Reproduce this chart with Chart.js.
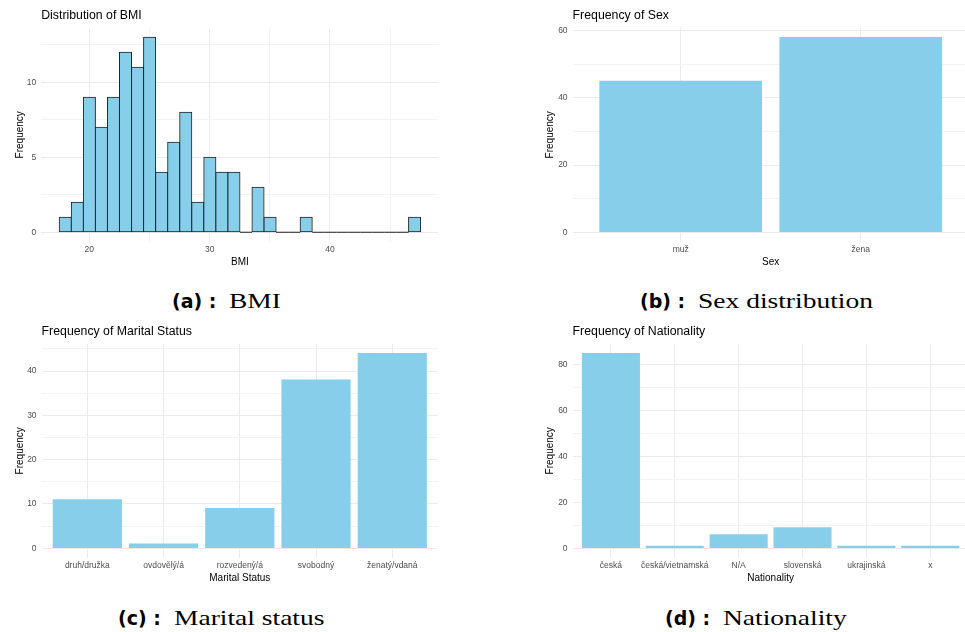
<!DOCTYPE html>
<html>
<head>
<meta charset="utf-8">
<script src="https://cdn.jsdelivr.net/npm/chart.js@4.4.1/dist/chart.umd.min.js"></script>
<style>
  html, body { margin: 0; padding: 0; background: #fff; width: 965px; height: 632px; overflow: hidden; position: relative; }
  .panel { position: absolute; }
  .panel canvas { display: block; }
  .cap { position: absolute; white-space: nowrap; line-height: 24px; color: #000; }
  .cap .lab { font-family: "DejaVu Sans", sans-serif; font-weight: bold; font-size: 19px; margin-right: 13px; }
  .cap .txt { display: inline-block; font-family: "Liberation Serif", serif; font-size: 22px; transform: scaleX(1.25); transform-origin: 0 50%; }
</style>
</head>
<body>
<div class="panel" style="left:0px;top:0px"><canvas id="bmiChart" width="450" height="272"></canvas></div>
<div class="panel" style="left:530px;top:0px"><canvas id="sexChart" width="440" height="272"></canvas></div>
<div class="panel" style="left:0px;top:316px"><canvas id="maritalChart" width="450" height="272"></canvas></div>
<div class="panel" style="left:530px;top:316px"><canvas id="nationalityChart" width="440" height="272"></canvas></div>

<div class="cap" style="left:172px;top:289px"><span class="lab">(a) :</span><span class="txt">BMI</span></div>
<div class="cap" style="left:640px;top:289px"><span class="lab">(b) :</span><span class="txt">Sex distribution</span></div>
<div class="cap" style="left:118px;top:606px"><span class="lab">(c) :</span><span class="txt">Marital status</span></div>
<div class="cap" style="left:665px;top:606px"><span class="lab">(d) :</span><span class="txt">Nationality</span></div>

<script>
// ---- data ----
const bmiFirstBinCenter = 18.0;
const bmiBinWidth = 1.0014;
const bmiCounts = [1, 2, 9, 7, 9, 12, 11, 13, 4, 6, 8, 2, 5, 4, 4, 0, 3, 1, 0, 0, 1, 0, 0, 0, 0, 0, 0, 0, 0, 1];
const bmiTickLabels = [20, 30, 40];
const bmiYTicks = [0, 5, 10];

const sexCategories = ['muž', 'žena'];
const sexCounts = [45, 58];
const sexYTicks = [0, 20, 40, 60];

const maritalCategories = ['druh/družka', 'ovdovělý/á', 'rozvedený/á', 'svobodný', 'ženatý/vdaná'];
const maritalCounts = [11, 1, 9, 38, 44];
const maritalYTicks = [0, 10, 20, 30, 40];

const nationalityCategories = ['česká', 'česká/vietnamská', 'N/A', 'slovenská', 'ukrajinská', 'x'];
const nationalityCounts = [85, 1, 6, 9, 1, 1];
const nationalityYTicks = [0, 20, 40, 60, 80];

// ---- styling ----
const FONT = '"Liberation Sans", Arial, sans-serif';
const BAR_FILL = '#87CEEB';
const GRID_MAJOR = '#EBEBEB';
const GRID_MINOR = '#F3F3F3';
const TICK_COLOR = '#4D4D4D';
const TICK_SIZE = 8.5;

Chart.defaults.font.family = FONT;
Chart.defaults.devicePixelRatio = 1;

// major ticks plus the half-way minor ticks that fall inside [min, max]
function withMinor(majors, min, max) {
  const step = majors[1] - majors[0];
  const out = [];
  for (let i = 0; i < majors.length; i++) {
    out.push({ value: majors[i], major: true });
    const m = majors[i] + step / 2;
    if (m <= max) out.push({ value: m, major: false });
  }
  const first = majors[0] - step / 2;
  if (first >= min) out.unshift({ value: first, major: false });
  return out;
}

function gridStyle(isMajorFn) {
  return {
    drawTicks: false,
    offset: false,
    color: c => (c.tick && isMajorFn(c.tick.value)) ? GRID_MAJOR : GRID_MINOR,
    lineWidth: 1
  };
}

// ggplot-like 5% expansion of a continuous range
function expand(lo, hi) {
  const d = (hi - lo) * 0.05;
  return [lo - d, hi + d];
}

function buildPanel(canvasId, cfg) {
  const [yMin, yMax] = expand(0, Math.max(...cfg.values.map(p => p.y)));
  const yTicks = withMinor(cfg.yMajors, yMin, yMax);
  const yMajorSet = new Set(cfg.yMajors);
  const xMajorSet = new Set(cfg.xMajors);

  return new Chart(document.getElementById(canvasId), {
    type: 'bar',
    data: {
      datasets: [{
        data: cfg.values,
        backgroundColor: BAR_FILL,
        borderColor: cfg.border ? '#222222' : BAR_FILL,
        borderWidth: cfg.border ? 1 : 0,
        borderSkipped: false,
        inflateAmount: cfg.border ? 0.5 : 0.3,
        barPercentage: cfg.barPercentage,
        categoryPercentage: 1.0
      }]
    },
    options: {
      responsive: false,
      animation: false,
      events: [],
      layout: { padding: { left: 0, top: 0, bottom: 0, right: cfg.padRight } },
      plugins: {
        legend: { display: false },
        tooltip: { enabled: false },
        title: {
          display: true,
          text: cfg.title,
          align: 'start',
          fullSize: false,
          color: '#000000',
          font: { family: FONT, size: 12.3, weight: 'normal' },
          padding: { top: 8.4, bottom: 4.4 }
        }
      },
      scales: {
        x: {
          type: 'linear',
          min: cfg.xMin,
          max: cfg.xMax,
          offset: false,
          afterBuildTicks: ax => { ax.ticks = cfg.xTicks.map(t => ({ value: t.value })); },
          afterFit: ax => { ax.height = 30; },
          border: { display: false },
          grid: gridStyle(v => xMajorSet.has(v)),
          ticks: {
            padding: 3,
            color: TICK_COLOR,
            font: { family: FONT, size: TICK_SIZE },
            maxRotation: 0,
            minRotation: 0,
            autoSkip: false,
            callback: cfg.xLabel
          },
          title: {
            display: true,
            text: cfg.xTitle,
            color: '#000000',
            font: { family: FONT, size: 10 },
            padding: { top: 0, bottom: 4 }
          }
        },
        y: {
          type: 'linear',
          min: yMin,
          max: yMax,
          afterBuildTicks: ax => { ax.ticks = yTicks.map(t => ({ value: t.value })); },
          afterFit: ax => { ax.width = cfg.yAxisWidth; },
          border: { display: false },
          grid: gridStyle(v => yMajorSet.has(v)),
          ticks: {
            padding: 5,
            color: TICK_COLOR,
            font: { family: FONT, size: TICK_SIZE },
            callback: v => yMajorSet.has(v) ? String(v) : ''
          },
          title: {
            display: true,
            text: 'Frequency',
            color: '#000000',
            font: { family: FONT, size: 10 },
            padding: { top: 14, bottom: 0 }
          }
        }
      }
    },
    plugins: cfg.plugins || []
  });
}

// ---- (a) BMI histogram ----
const bmiCenters = bmiCounts.map((_, i) => bmiFirstBinCenter + i * bmiBinWidth);
const bmiLo = bmiCenters[0] - bmiBinWidth / 2;
const bmiHi = bmiCenters[bmiCenters.length - 1] + bmiBinWidth / 2;
const [bmiXMin, bmiXMax] = expand(bmiLo, bmiHi);
const bmiXTicks = withMinor(bmiTickLabels, bmiXMin, bmiXMax);

// outline along the baseline where bins are empty
const zeroBaseline = {
  id: 'zeroBaseline',
  beforeDatasetsDraw(chart) {
    const { ctx, scales: { x, y } } = chart;
    const y0 = y.getPixelForValue(0);
    ctx.save();
    ctx.strokeStyle = '#222222';
    ctx.lineWidth = 1;
    ctx.beginPath();
    bmiCounts.forEach((c, i) => {
      if (c === 0) {
        ctx.moveTo(x.getPixelForValue(bmiCenters[i] - bmiBinWidth / 2), y0);
        ctx.lineTo(x.getPixelForValue(bmiCenters[i] + bmiBinWidth / 2), y0);
      }
    });
    ctx.stroke();
    ctx.restore();
  }
};

buildPanel('bmiChart', {
  title: 'Distribution of BMI',
  xTitle: 'BMI',
  values: bmiCounts.map((c, i) => ({ x: bmiCenters[i], y: c })),
  xMin: bmiXMin,
  xMax: bmiXMax,
  xTicks: bmiXTicks,
  xMajors: bmiTickLabels,
  xLabel: v => bmiTickLabels.includes(v) ? String(v) : '',
  yMajors: bmiYTicks,
  yAxisWidth: 41.2,
  padRight: 11.3,
  border: true,
  barPercentage: 1.0,
  plugins: [zeroBaseline]
});

// ---- categorical panels ----
function categoricalPanel(canvasId, title, xTitle, categories, counts, yMajors, yAxisWidth, padRight) {
  const positions = categories.map((_, i) => i + 1);
  buildPanel(canvasId, {
    title: title,
    xTitle: xTitle,
    values: counts.map((c, i) => ({ x: positions[i], y: c })),
    xMin: 0.4,
    xMax: categories.length + 0.6,
    xTicks: positions.map(p => ({ value: p })),
    xMajors: positions,
    xLabel: v => categories[Math.round(v) - 1] || '',
    yMajors: yMajors,
    yAxisWidth: yAxisWidth,
    padRight: padRight,
    border: false,
    barPercentage: 0.9
  });
}

categoricalPanel('sexChart', 'Frequency of Sex', 'Sex', sexCategories, sexCounts, sexYTicks, 42.6, 1.2);
categoricalPanel('maritalChart', 'Frequency of Marital Status', 'Marital Status', maritalCategories, maritalCounts, maritalYTicks, 41.6, 12);
categoricalPanel('nationalityChart', 'Frequency of Nationality', 'Nationality', nationalityCategories, nationalityCounts, nationalityYTicks, 42.6, 1.4);
</script>
</body>
</html>
